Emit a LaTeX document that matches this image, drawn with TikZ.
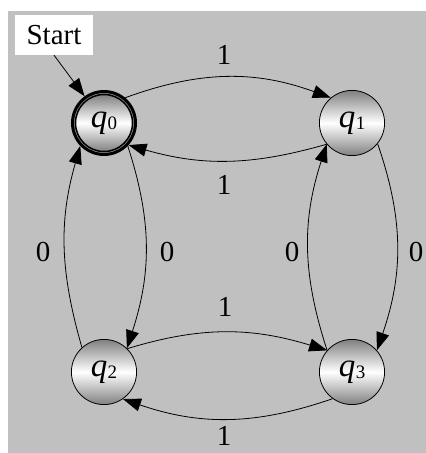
\documentclass[tikz,border=0pt]{standalone}
\usepackage{fontspec}
\setmainfont{Liberation Serif}
\usetikzlibrary{arrows.meta}
\definecolor{bg}{HTML}{C0C0C0}
\definecolor{shd}{HTML}{808080}
\definecolor{ringgray}{HTML}{8E8E8E}
\newcommand{\qlab}[1]{\fontsize{33}{34}\selectfont\textit{q}\kern0.5pt\raisebox{-2pt}{\fontsize{19}{19}\selectfont #1}}
\begin{document}
\begin{tikzpicture}[x=1pt,y=1pt,
  state/.style={circle, draw=black, line width=0.8pt, minimum size=65.2pt, inner sep=0pt, top color=shd, bottom color=shd, middle color=white},
  accring/.style={circle, draw=black, line width=3pt, minimum size=63pt, inner sep=0pt, fill=ringgray},
  accin/.style={circle, draw=black, line width=1.5pt, minimum size=57pt, inner sep=0pt, top color=shd, bottom color=shd, middle color=white},
  edge/.style={line width=0.8pt, -{Triangle[length=18pt,width=13pt]}},
  lbl/.style={font=\fontsize{29}{30}\selectfont, inner sep=0pt},
  startbox/.style={fill=white, minimum width=78pt, minimum height=40pt, inner sep=0pt, font=\fontsize{29}{30}\selectfont}]
\useasboundingbox (0,0) rectangle (426,453);
\fill[bg] (8,0) rectangle (426,442);

\node[accring] (q0) at (104,330) {};
\node[accin] (q0in) at (q0) {\qlab{0}};
\node[state] (q1) at (352,330) {\qlab{1}};
\node[state] (q2) at (104,81) {\qlab{2}};
\node[state] (q3) at (352,81) {\qlab{3}};
\node[startbox] (start) at (54,418) {Start};

\draw[edge] (start.south) -- (q0.126);
\draw[edge] (q0.50) to[out=20,in=160] (q1.130);
\draw[edge] (q1.220) to[out=196,in=-16] (q0.-42);
\draw[edge] (q0.-44) to[out=-72,in=72] (q2.46);
\draw[edge] (q2.132) to[out=106,in=-106] (q0.-136);
\draw[edge] (q1.-39) to[out=-71,in=71] (q3.41);
\draw[edge] (q3.139) to[out=108,in=-108] (q1.220);
\draw[edge] (q2.45) to[out=17,in=163] (q3.139);
\draw[edge] (q3.-126) to[out=199,in=-19] (q2.-55);

\node[lbl] (l1) at (224,398) {1};
\node[lbl] (l2) at (224,268) {1};
\node[lbl] (l3) at (43,201) {0};
\node[lbl] (l4) at (167,201) {0};
\node[lbl] (l5) at (292,201) {0};
\node[lbl] (l6) at (416,201) {0};
\node[lbl] (l7) at (225,146) {1};
\node[lbl] (l8) at (224,17) {1};
\end{tikzpicture}
\end{document}
